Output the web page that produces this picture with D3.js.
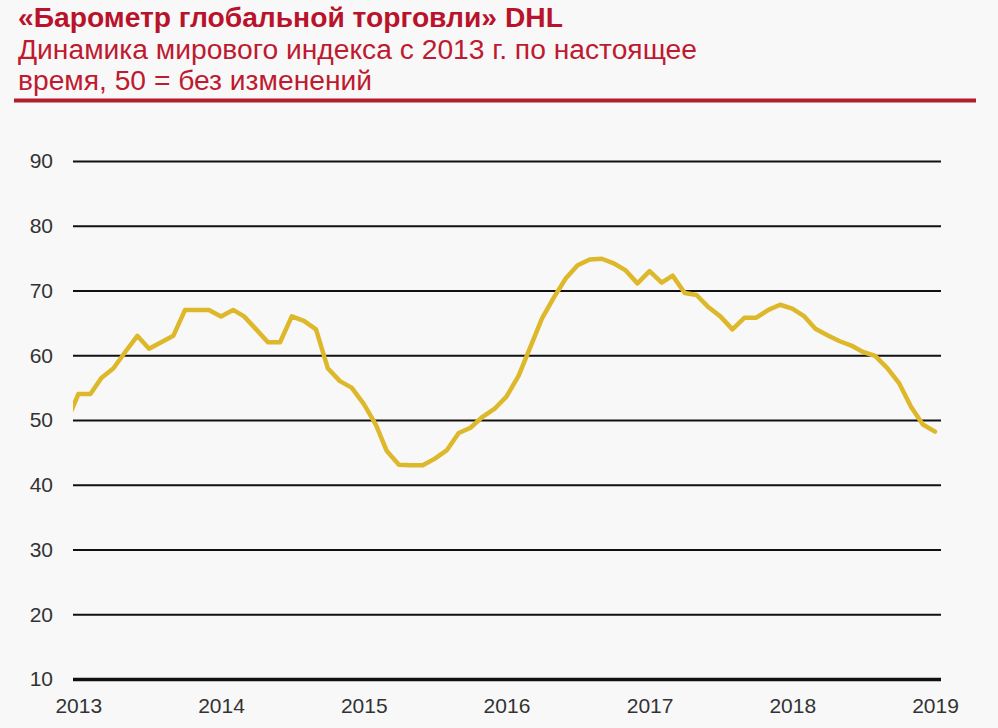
<!DOCTYPE html>
<html>
<head>
<meta charset="utf-8">
<script src="https://cdn.jsdelivr.net/npm/d3@7"></script>
<style>
  html, body { margin: 0; padding: 0; background: #f8f8f8; }
  svg { display: block; }
</style>
</head>
<body>
<svg id="chart" width="998" height="728"></svg>
<script>
// ---------- data ----------
const titleText = "«Барометр глобальной торговли» DHL";
const subtitleLines = [
  "Динамика мирового индекса с 2013 г. по настоящее",
  "время, 50 = без изменений"
];
const firstMonth = "2012-12";   // first monthly point (partly outside the plot)
const lastMonth = "2019-01";
const indexValues = [
  49.5,                                                           // Dec 2012
  54, 54, 56.5, 58, 60.5, 63, 61, 62, 63, 67, 67, 67,             // 2013
  66, 67, 66, 64, 62, 62, 66, 65.3, 64, 58, 56, 55,               // 2014
  52.5, 49.3, 45.2, 43.1, 43, 43, 44, 45.3, 48, 48.8, 50.5, 51.7, // 2015
  53.6, 56.8, 61.1, 65.7, 68.9, 71.9, 73.9, 74.8, 74.9, 74.2, 73.1, 71.1, // 2016
  73, 71.2, 72.3, 69.6, 69.3, 67.4, 66, 64, 65.8, 65.8, 67, 67.8, // 2017
  67.2, 66, 64.1, 63.1, 62.2, 61.5, 60.5, 59.9, 58, 55.7, 52, 49.3, // 2018
  48.2                                                            // Jan 2019
];
const yTicks = [10, 20, 30, 40, 50, 60, 70, 80, 90];
const yearLabels = ["2013", "2014", "2015", "2016", "2017", "2018", "2019"];

// ---------- layout ----------
const svg = d3.select("#chart");
const plot = { left: 73, right: 941, top: 161, bottom: 679 };
const parseMonth = d3.timeParse("%Y-%m");
const parseYear = d3.timeParse("%Y");

const months = d3.timeMonth.range(parseMonth(firstMonth), d3.timeMonth.offset(parseMonth(lastMonth), 1));
const data = months.map((d, i) => ({ date: d, value: indexValues[i] }));

const x = d3.scaleTime()
  .domain([parseYear(yearLabels[0]), parseYear(yearLabels[yearLabels.length - 1])])
  .range([78.3, 935]);
const y = d3.scaleLinear().domain([10, 90]).range([plot.bottom, plot.top]);

svg.append("rect").attr("width", 998).attr("height", 728).attr("fill", "#f8f8f8");

// ---------- header ----------
function fitWidth(sel, target) {
  const w = sel.node().getComputedTextLength();
  const fs = parseFloat(sel.attr("font-size"));
  sel.attr("font-size", (fs * target / w).toFixed(2));
}
const title = svg.append("text")
  .attr("x", 18).attr("y", 27)
  .attr("font-family", "'Liberation Sans', Arial, sans-serif")
  .attr("font-weight", "bold")
  .attr("font-size", 24)
  .attr("fill", "#b8132b")
  .text(titleText);
fitWidth(title, 545);

const subWidths = [679, 354];
const subY = [59, 90];
subtitleLines.forEach((s, i) => {
  const t = svg.append("text")
    .attr("x", 18).attr("y", subY[i])
    .attr("font-family", "'Liberation Sans', Arial, sans-serif")
    .attr("font-size", 24)
    .attr("fill", "#be1a30")
    .text(s);
  fitWidth(t, subWidths[i]);
});

svg.append("rect")
  .attr("x", 14).attr("y", 98.5).attr("width", 962).attr("height", 4)
  .attr("fill", "#b01d2d");

// ---------- grid + y axis ----------
const yAxis = d3.axisLeft(y)
  .tickValues(yTicks)
  .tickSize(-(plot.right - plot.left))
  .tickPadding(20)
  .tickFormat(d3.format("d"));

const gy = svg.append("g")
  .attr("transform", `translate(${plot.left},0)`)
  .call(yAxis);
gy.select(".domain").remove();
gy.selectAll(".tick line")
  .attr("stroke", "#111")
  .attr("stroke-width", d => d === 10 ? 3.5 : 2);
gy.selectAll(".tick text")
  .attr("font-family", "'Liberation Sans', Arial, sans-serif")
  .attr("font-size", 21)
  .attr("fill", "#333")
  .attr("dy", "0.33em");

// ---------- x axis labels ----------
const xAxis = d3.axisBottom(x)
  .tickValues(yearLabels.map(parseYear))
  .tickSize(0)
  .tickPadding(0)
  .tickFormat(d3.timeFormat("%Y"));
const gx = svg.append("g")
  .attr("transform", `translate(0,${plot.bottom})`)
  .call(xAxis);
gx.select(".domain").remove();
gx.selectAll(".tick text")
  .attr("font-family", "'Liberation Sans', Arial, sans-serif")
  .attr("font-size", 21)
  .attr("fill", "#333")
  .attr("y", 34)
  .attr("dy", 0);

// ---------- line ----------
svg.append("clipPath").attr("id", "plotClip")
  .append("rect")
  .attr("x", plot.left).attr("y", 0)
  .attr("width", 998 - plot.left).attr("height", 728);

const line = d3.line()
  .x(d => x(d.date))
  .y(d => y(d.value));

svg.append("path")
  .datum(data)
  .attr("clip-path", "url(#plotClip)")
  .attr("fill", "none")
  .attr("stroke", "#dcb82a")
  .attr("stroke-width", 4.5)
  .attr("stroke-linejoin", "round")
  .attr("stroke-linecap", "round")
  .attr("d", line);
</script>
</body>
</html>
